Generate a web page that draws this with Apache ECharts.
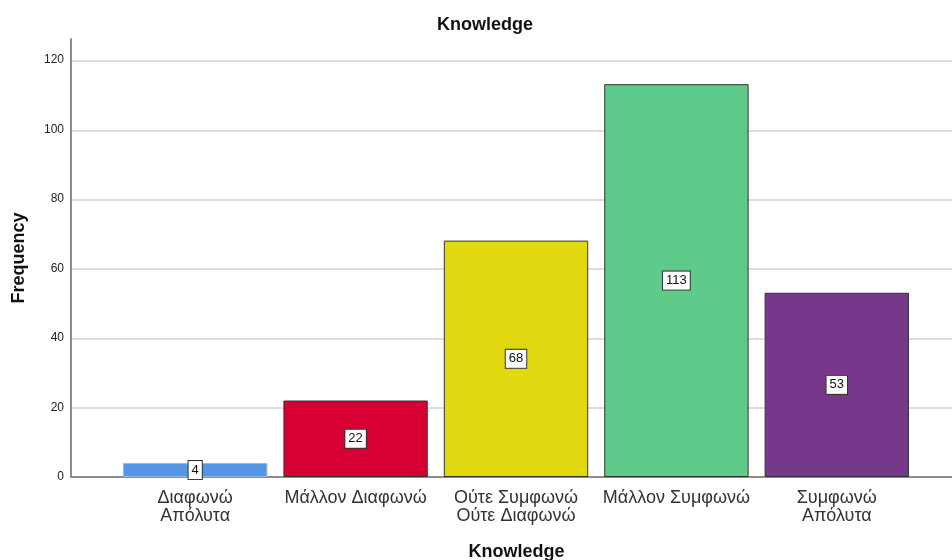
<!DOCTYPE html>
<html>
<head>
<meta charset="utf-8">
<script src="https://cdn.jsdelivr.net/npm/echarts@6/dist/echarts.min.js"></script>
<style>
  html, body { margin: 0; padding: 0; background: #fff; }
  #chart { width: 952px; height: 560px; }
</style>
</head>
<body>
<div id="chart"></div>
<script>
// Response categories and their counts
const categories = ['Διαφωνώ\nΑπόλυτα', 'Μάλλον Διαφωνώ', 'Ούτε Συμφωνώ\nΟύτε Διαφωνώ', 'Μάλλον Συμφωνώ', 'Συμφωνώ\nΑπόλυτα'];
const frequencies = [4, 22, 68, 113, 53];
const barColors = ['#5596e4', '#d70032', '#e2d80f', '#5ecb8b', '#77388b'];
const barBorders = ['#8fb8ee', '#333333', '#333333', '#333333', '#333333'];
const yTicks = [0, 20, 40, 60, 80, 100, 120];

const font = 'Arial, "Liberation Sans", sans-serif';
const yTop = 126;

const chart = echarts.init(document.getElementById('chart'), null, { renderer: 'canvas' });

chart.setOption({
  animation: false,
  backgroundColor: '#ffffff',
  title: {
    text: 'Knowledge',
    left: 480,
    textAlign: 'center',
    top: 11,
    textStyle: { fontFamily: font, fontSize: 18, fontWeight: 'bold', color: '#111' }
  },
  grid: [
    // frame: axis lines, tick labels, axis names
    { left: 71, right: 0, top: 39, bottom: 83, outerBoundsMode: 'none', containLabel: false },
    // horizontal gridlines up to the last tick
    { left: 71, right: 0, top: 61, bottom: 83, outerBoundsMode: 'none', containLabel: false },
    // bars and category labels
    { left: 115, right: 35, top: 39, bottom: 83, outerBoundsMode: 'none', containLabel: false }
  ],
  xAxis: [
    {
      gridIndex: 0, type: 'category', data: categories,
      axisLine: { show: true, lineStyle: { color: '#8c8c8c', width: 2 } },
      axisTick: { show: false }, axisLabel: { show: false },
      name: 'Knowledge', nameLocation: 'middle', nameGap: 66,
      nameTextStyle: { fontFamily: font, fontSize: 18, fontWeight: 'bold', color: '#111', padding: [0, 0, 0, 10] }
    },
    { gridIndex: 1, type: 'category', data: categories, show: false },
    {
      gridIndex: 2, type: 'category', data: categories,
      axisLine: { show: false }, axisTick: { show: false },
      axisLabel: {
        interval: 0, margin: 12, fontFamily: font, fontSize: 18,
        color: '#333', lineHeight: 18
      }
    }
  ],
  yAxis: [
    {
      gridIndex: 0, type: 'value', min: 0, max: yTop, interval: 20,
      axisLine: { show: true, lineStyle: { color: '#8c8c8c', width: 2 } },
      axisTick: { show: false },
      splitLine: { show: false },
      axisLabel: {
        showMaxLabel: false, margin: 7, fontFamily: font, fontSize: 12, color: '#222',
        formatter: v => (yTicks.includes(v) ? String(v) : '')
      },
      name: 'Frequency', nameLocation: 'middle', nameGap: 43, nameRotate: 90,
      nameTextStyle: { fontFamily: font, fontSize: 18, fontWeight: 'bold', color: '#111' }
    },
    {
      gridIndex: 1, type: 'value', min: 0, max: yTicks[yTicks.length - 1], interval: 20,
      axisLine: { show: false }, axisTick: { show: false }, axisLabel: { show: false },
      splitLine: { show: true, lineStyle: { color: '#d2d2d2', width: 1.5 } }
    },
    {
      gridIndex: 2, type: 'value', min: 0, max: yTop,
      show: false, splitLine: { show: false }
    }
  ],
  series: [{
    type: 'bar',
    xAxisIndex: 2, yAxisIndex: 2,
    barCategoryGap: '10%',
    data: frequencies.map((v, i) => ({
      value: v,
      itemStyle: { color: barColors[i], borderColor: barBorders[i], borderWidth: 1 }
    })),
    label: {
      show: true, position: 'inside',
      fontFamily: font, fontSize: 13, color: '#111',
      backgroundColor: '#ffffff', borderColor: '#333', borderWidth: 1,
      padding: [3, 3, 2, 3]
    },
    z: 3
  }]
});
</script>
</body>
</html>
